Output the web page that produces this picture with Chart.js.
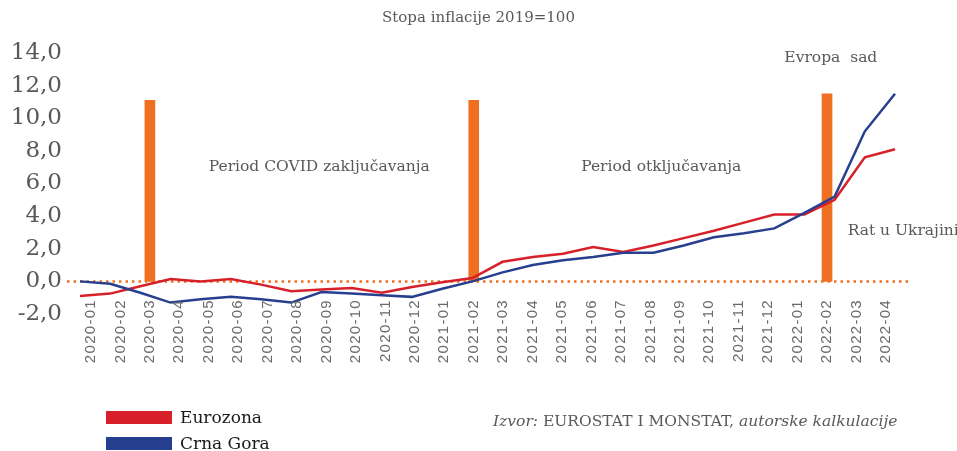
<!DOCTYPE html>
<html>
<head>
<meta charset="utf-8">
<script src="https://cdn.jsdelivr.net/npm/chart.js@4/dist/chart.umd.min.js"></script>
<style>
  body { margin: 0; background: #fff; }
  #wrap { position: relative; width: 957px; height: 451px; }
  .title { position: absolute; left: 0; width: 957px; top: 8px; text-align: center;
    font: 15px "DejaVu Serif", serif; color: #595959; }
  .leg { position: absolute; left: 106px; font: 17px "DejaVu Serif", serif; color: #1a1a1a; line-height: 20px; }
  .leg span.sw { display: inline-block; width: 66px; height: 13px; vertical-align: -1px; margin-right: 8px; }
  .src { position: absolute; left: 493px; top: 412px; font: 15.5px "DejaVu Serif", serif; color: #595959; }
  .src i { font-style: italic; }
</style>
</head>
<body>
<div id="wrap">
  <canvas id="myChart" width="957" height="451"></canvas>
  <div class="title">Stopa inflacije 2019=100</div>
  <div class="leg" style="top:407px"><span class="sw" style="background:#D7202A"></span>Eurozona</div>
  <div class="leg" style="top:433px"><span class="sw" style="background:#263F8E"></span>Crna Gora</div>
  <div class="src"><i>Izvor:</i> EUROSTAT I MONSTAT, <i>autorske kalkulacije</i></div>
</div>
<script>
const mjeseci = ["2020-01","2020-02","2020-03","2020-04","2020-05","2020-06","2020-07","2020-08","2020-09","2020-10","2020-11","2020-12",
  "2021-01","2021-02","2021-03","2021-04","2021-05","2021-06","2021-07","2021-08","2021-09","2021-10","2021-11","2021-12",
  "2022-01","2022-02","2022-03","2022-04"];
const eurozona = [-0.9,-0.75,-0.3,0.15,0.0,0.15,-0.2,-0.6,-0.5,-0.4,-0.7,-0.35,-0.05,0.2,1.2,1.5,1.7,2.1,1.8,2.2,2.65,3.1,3.6,4.1,4.1,5.0,7.6,8.1];
const crnaGora = [0.0,-0.15,-0.7,-1.3,-1.1,-0.95,-1.1,-1.3,-0.65,-0.75,-0.85,-0.95,-0.45,0.0,0.55,1.0,1.3,1.5,1.75,1.75,2.2,2.7,2.95,3.25,4.2,5.2,9.2,11.5];
const dogadjaji = [null,null,11.1,null,null,null,null,null,null,null,null,null,null,11.1,null,null,null,null,null,null,null,null,null,null,null,11.5,null,null];
const yTicks = [-2,0,2,4,6,8,10,12,14];
const napomene = [
  {text: "Period COVID zaključavanja", x: 4.0, y: 7.0},
  {text: "Period otključavanja", x: 16.65, y: 7.0},
  {text: "Evropa  sad", x: 23.55, y: 13.7},
  {text: "Rat u Ukrajini", x: 25.7, y: 3.1}
];

const siva = "#595959";
const uTacke = arr => arr.map((v, i) => ({x: i, y: v}));

const extras = {
  id: "extras",
  beforeDatasetsDraw(chart) {
    const ctx = chart.ctx, y = chart.scales.y, a = chart.chartArea;
    const y0 = y.getPixelForValue(0);
    ctx.save();
    ctx.strokeStyle = "#F07022";
    ctx.lineWidth = 2.5;
    ctx.setLineDash([2.5, 4]);
    ctx.beginPath();
    ctx.moveTo(a.left, y0);
    ctx.lineTo(a.right, y0);
    ctx.stroke();
    ctx.restore();
  },
  afterDraw(chart) {
    const ctx = chart.ctx, x = chart.scales.x, y = chart.scales.y;
    ctx.save();
    // oznake mjeseci, rotirane
    ctx.fillStyle = "#6a6a6a";
    ctx.font = "15px 'Liberation Sans', Arial, sans-serif";
    ctx.letterSpacing = "1.3px";
    ctx.textAlign = "right";
    ctx.textBaseline = "middle";
    mjeseci.forEach((m, i) => {
      ctx.save();
      ctx.translate(x.getPixelForValue(i), y.bottom - 15);
      ctx.rotate(-Math.PI / 2);
      ctx.fillText(m, 0, 0);
      ctx.restore();
    });
    ctx.letterSpacing = "0px";
    // napomene
    ctx.fillStyle = siva;
    ctx.font = "15.5px 'DejaVu Serif', serif";
    ctx.textAlign = "left";
    napomene.forEach(n => {
      ctx.fillText(n.text, x.getPixelForValue(n.x), y.getPixelForValue(n.y));
    });
    ctx.restore();
  }
};

new Chart("myChart", {
  type: "bar",
  data: {
    datasets: [
      {type: "bar", data: uTacke(dogadjaji), backgroundColor: "#F07022", barThickness: 10, grouped: false, order: 3},
      {type: "line", label: "Eurozona", data: uTacke(eurozona), xAxisID: "x2", borderColor: "#D7202A", borderWidth: 2.5, pointRadius: 0, tension: 0, order: 2},
      {type: "line", label: "Crna Gora", data: uTacke(crnaGora), xAxisID: "x2", borderColor: "#263F8E", borderWidth: 2.5, pointRadius: 0, tension: 0, order: 1}
    ]
  },
  options: {
    responsive: false,
    animation: false,
    layout: {padding: {top: 53, right: 49, bottom: 0, left: 0}},
    plugins: {legend: {display: false}, tooltip: {enabled: false}},
    scales: {
      x: {
        type: "linear", min: -0.815, max: 27.75, offset: false,
        grid: {display: false, drawTicks: false},
        border: {display: false},
        ticks: {display: false},
        afterFit(s) { s.height = 137; }
      },
      x2: {
        type: "linear", min: -0.43, max: 27.43, offset: false, display: false
      },
      y: {
        min: -2, max: 14,
        grid: {display: false, drawTicks: false},
        border: {display: false},
        afterBuildTicks(s) { s.ticks = yTicks.map(v => ({value: v})); },
        ticks: {color: siva, font: {family: "DejaVu Serif", size: 23}, padding: 5,
          callback: v => v.toFixed(1).replace(".", ",")},
        afterFit(s) { s.width = 67; }
      }
    }
  },
  plugins: [extras]
});
</script>
</body>
</html>
